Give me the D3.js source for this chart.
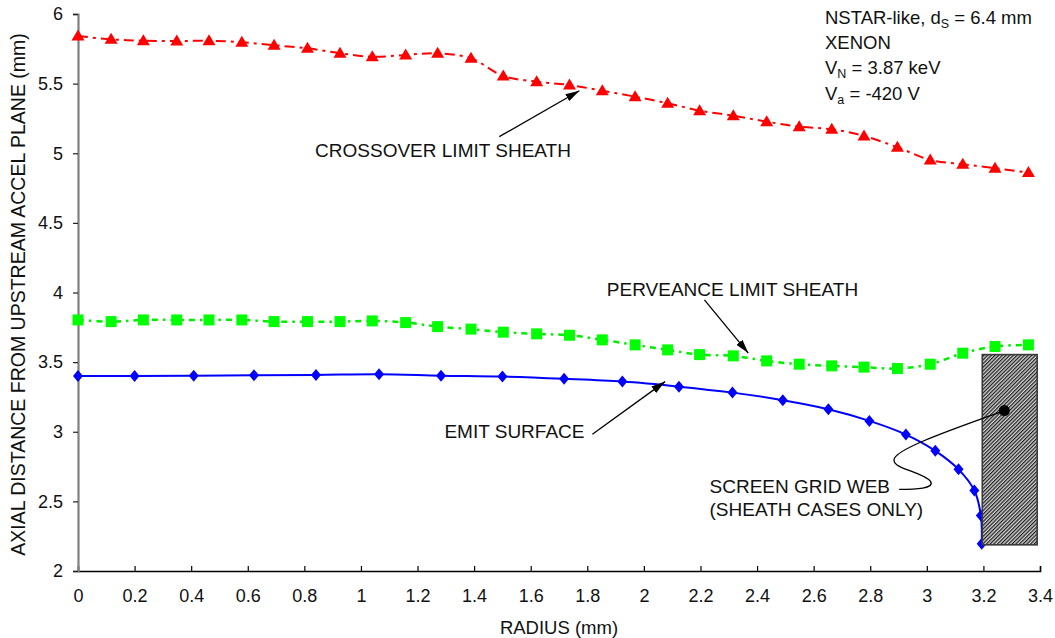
<!DOCTYPE html>
<html>
<head>
<meta charset="utf-8">
<script src="https://cdn.jsdelivr.net/npm/d3@7"></script>
<style>
  html, body { margin: 0; padding: 0; background: #fff; }
  svg { display: block; font-family: "Liberation Sans", Arial, Helvetica, sans-serif; }
</style>
</head>
<body>
<svg id="chart" width="1055" height="638"></svg>
<script>
// Radial positions (mm) shared by the two sheath solutions
const sheathRadius = [0, 0.117, 0.231, 0.349, 0.463, 0.579, 0.693, 0.811, 0.926, 1.040,
  1.158, 1.271, 1.389, 1.503, 1.621, 1.737, 1.853, 1.969, 2.084, 2.197,
  2.316, 2.434, 2.549, 2.664, 2.778, 2.896, 3.012, 3.127, 3.241, 3.359];

// Crossover limit sheath (mm)
const crossoverSheath = [5.842, 5.818, 5.808, 5.806, 5.808, 5.797, 5.775, 5.754, 5.718, 5.693,
  5.706, 5.718, 5.682, 5.555, 5.514, 5.490, 5.449, 5.406, 5.359, 5.306,
  5.270, 5.227, 5.191, 5.172, 5.124, 5.043, 4.952, 4.921, 4.893, 4.861];

// Perveance limit sheath (mm)
const perveanceSheath = [3.803, 3.791, 3.803, 3.803, 3.803, 3.803, 3.791, 3.791, 3.791, 3.796,
  3.784, 3.755, 3.737, 3.715, 3.703, 3.693, 3.660, 3.624, 3.588, 3.554,
  3.545, 3.509, 3.485, 3.473, 3.464, 3.454, 3.485, 3.564, 3.612, 3.624];

// Emit surface: radius and axial position (mm)
const emitRadius = [0, 0.200, 0.409, 0.622, 0.841, 1.064, 1.283, 1.500, 1.718, 1.924,
  2.124, 2.313, 2.491, 2.652, 2.797, 2.926, 3.030, 3.112, 3.168, 3.191, 3.194];
const emitSurface = [3.401, 3.401, 3.403, 3.406, 3.408, 3.413, 3.403, 3.396, 3.380, 3.360,
  3.324, 3.281, 3.227, 3.162, 3.078, 2.980, 2.863, 2.730, 2.578, 2.398, 2.195];

// Screen grid web extent (mm)
const webRadius = [3.196, 3.390];
const webAxial = [2.188, 3.554];

// Tick values
const xTicks = [0, 0.2, 0.4, 0.6, 0.8, 1, 1.2, 1.4, 1.6, 1.8, 2, 2.2, 2.4, 2.6, 2.8, 3, 3.2, 3.4];
const yTicks = [2, 2.5, 3, 3.5, 4, 4.5, 5, 5.5, 6];

const svg = d3.select("#chart");
const margin = { left: 78, right: 15, top: 14, bottom: 67 };
const W = 1055, H = 638;

const x = d3.scaleLinear().domain([0, 3.4]).range([margin.left, W - margin.right]);
const y = d3.scaleLinear().domain([2, 6]).range([H - margin.bottom, margin.top]);

// hatch pattern for the grid web
const defs = svg.append("defs");
const pat = defs.append("pattern").attr("id", "hatch").attr("patternUnits", "userSpaceOnUse")
  .attr("width", 2.6).attr("height", 2.6).attr("patternTransform", "rotate(45)");
pat.append("rect").attr("width", 2.6).attr("height", 2.6).attr("fill", "#d0d0d0");
pat.append("line").attr("x1", 0.6).attr("y1", 0).attr("x2", 0.6).attr("y2", 2.6)
  .attr("stroke", "#1e1e1e").attr("stroke-width", 1.2);

defs.append("marker").attr("id", "arrow").attr("viewBox", "0 0 14 8")
  .attr("refX", 14).attr("refY", 4).attr("markerWidth", 14).attr("markerHeight", 8)
  .attr("markerUnits", "userSpaceOnUse").attr("orient", "auto")
  .append("path").attr("d", "M0,0 L14,4 L0,8 Z").attr("fill", "#000");

// axes
const xAxis = svg.append("g").attr("transform", `translate(0,${y(2)})`)
  .call(d3.axisBottom(x).tickValues(xTicks).tickSize(-5).tickPadding(18)
    .tickFormat(d => d3.format("~g")(d)));
xAxis.select(".domain").attr("stroke", "#000").attr("stroke-width", 1.5);
xAxis.selectAll(".tick line").attr("stroke", "#000").attr("stroke-width", 1.2);
xAxis.selectAll(".tick text").attr("font-size", 18).attr("fill", "#111")
  .attr("font-family", "'Liberation Sans', Arial, sans-serif");

const yAxis = svg.append("g").attr("transform", `translate(${x(0)},0)`)
  .call(d3.axisLeft(y).tickValues(yTicks).tickSize(5).tickPadding(10)
    .tickFormat(d => d3.format("~g")(d)));
yAxis.select(".domain").attr("stroke", "#808080").attr("stroke-width", 2.2);
yAxis.selectAll(".tick line").attr("stroke", "#222").attr("stroke-width", 1.2);
yAxis.selectAll(".tick text").attr("font-size", 18).attr("fill", "#111")
  .attr("font-family", "'Liberation Sans', Arial, sans-serif");

// axis titles
svg.append("text").attr("x", x(1.7)).attr("y", 634).attr("text-anchor", "middle")
  .attr("font-size", 18.5).attr("fill", "#111").text("RADIUS (mm)");
svg.append("text").attr("transform", `translate(25,${(y(2) + y(6)) / 2 + 2}) rotate(-90)`)
  .attr("text-anchor", "middle").attr("font-size", 19.5).attr("fill", "#111")
  .text("AXIAL DISTANCE FROM UPSTREAM ACCEL PLANE (mm)");

const line = d3.line().x(d => x(d[0])).y(d => y(d[1])).curve(d3.curveCatmullRom.alpha(0.5));

const crossPts = sheathRadius.map((r, i) => [r, crossoverSheath[i]]);
const pervPts = sheathRadius.map((r, i) => [r, perveanceSheath[i]]);
const emitPts = emitRadius.map((r, i) => [r, emitSurface[i]]);

// crossover limit sheath
svg.append("path").datum(crossPts).attr("d", line).attr("fill", "none")
  .attr("stroke", "#ff0000").attr("stroke-width", 2).attr("stroke-dasharray", "10,5,3,5");
svg.append("g").selectAll("path").data(crossPts).join("path")
  .attr("transform", d => `translate(${x(d[0])},${y(d[1])})`)
  .attr("d", "M0,-6.5 L6.5,4.5 L-6.5,4.5 Z").attr("fill", "#ff0000");

// perveance limit sheath
svg.append("path").datum(pervPts).attr("d", line).attr("fill", "none")
  .attr("stroke", "#00ee00").attr("stroke-width", 2.5).attr("stroke-dasharray", "6,5,2.5,5");
svg.append("g").selectAll("rect").data(pervPts).join("rect")
  .attr("x", d => x(d[0]) - 5.5).attr("y", d => y(d[1]) - 5.5)
  .attr("width", 11).attr("height", 11).attr("fill", "#00ff00");

// emit surface
svg.append("path").datum(emitPts).attr("d", line).attr("fill", "none")
  .attr("stroke", "#0000ff").attr("stroke-width", 2);
svg.append("g").selectAll("path").data(emitPts).join("path")
  .attr("transform", d => `translate(${x(d[0])},${y(d[1])})`)
  .attr("d", "M0,-6 L5,0 L0,6 L-5,0 Z").attr("fill", "#0000ff");

// screen grid web
svg.append("rect")
  .attr("x", x(webRadius[0])).attr("y", y(webAxial[1]))
  .attr("width", x(webRadius[1]) - x(webRadius[0]))
  .attr("height", y(webAxial[0]) - y(webAxial[1]))
  .attr("fill", "url(#hatch)").attr("stroke", "#3a3a3a").attr("stroke-width", 1.6);

// annotation labels and arrows
const labelFont = 19;
function label(text, xr, ya) {
  svg.append("text").attr("x", x(xr)).attr("y", y(ya)).attr("font-size", labelFont)
    .attr("fill", "#111").text(text);
}
function arrow(from, to) {
  svg.append("line").attr("x1", x(from[0])).attr("y1", y(from[1]))
    .attr("x2", x(to[0])).attr("y2", y(to[1]))
    .attr("stroke", "#000").attr("stroke-width", 1.3).attr("marker-end", "url(#arrow)");
}
label("CROSSOVER LIMIT SHEATH", 0.838, 4.971);
arrow([1.489, 5.119], [1.772, 5.449]);

label("PERVEANCE LIMIT SHEATH", 1.869, 3.978);
arrow([2.214, 3.947], [2.369, 3.565]);

label("EMIT SURFACE", 1.295, 2.955);
arrow([1.818, 2.982], [2.075, 3.360]);

label("SCREEN GRID WEB", 2.232, 2.557);
label("(SHEATH CASES ONLY)", 2.232, 2.393);

// wavy leader from the label to the grid web
const leader = [
  [2.902, 2.586], [2.96, 2.586], [3.03, 2.593], [3.013, 2.643],
  [2.985, 2.715], [2.880, 2.73], [2.884, 2.80],
  [2.889, 2.88], [3.11, 3.03], [3.274, 3.152]
];
const p = leader.map(d => [x(d[0]), y(d[1])]);
svg.append("path")
  .attr("d", `M${p[0]} C${p[1]} ${p[2]} ${p[3]} C${p[4]} ${p[5]} ${p[6]} C${p[7]} ${p[8]} ${p[9]}`)
  .attr("fill", "none").attr("stroke", "#000").attr("stroke-width", 1.3);
svg.append("circle").attr("cx", x(3.274)).attr("cy", y(3.152)).attr("r", 5.5).attr("fill", "#000");

// run conditions
const info = svg.append("text").attr("x", 825).attr("font-size", 18.5).attr("fill", "#111");
const l1 = info.append("tspan").attr("x", 825).attr("y", 23.5);
l1.append("tspan").text("NSTAR-like, d");
l1.append("tspan").attr("font-size", 12.5).attr("dy", 4).text("S");
l1.append("tspan").attr("dy", -4).text(" = 6.4 mm");
info.append("tspan").attr("x", 825).attr("y", 49.3).text("XENON");
const l3 = info.append("tspan").attr("x", 825).attr("y", 74.3);
l3.append("tspan").text("V");
l3.append("tspan").attr("font-size", 12.5).attr("dy", 4).text("N");
l3.append("tspan").attr("dy", -4).text(" = 3.87 keV");
const l4 = info.append("tspan").attr("x", 825).attr("y", 99.5);
l4.append("tspan").text("V");
l4.append("tspan").attr("font-size", 12.5).attr("dy", 4).text("a");
l4.append("tspan").attr("dy", -4).text(" = -420 V");
</script>
</body>
</html>
